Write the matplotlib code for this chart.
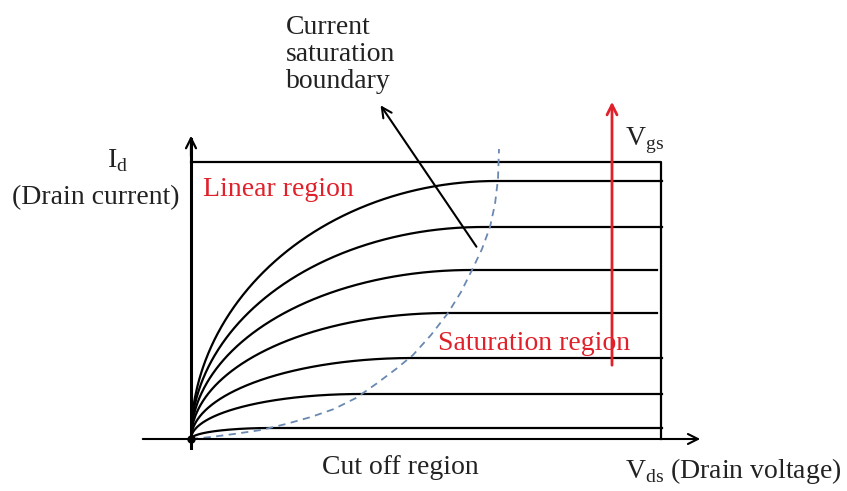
import numpy as np
import matplotlib.pyplot as plt

plt.rcParams['font.family'] = ['Liberation Serif', 'DejaVu Serif']
plt.rcParams['mathtext.fontset'] = 'custom'
plt.rcParams['mathtext.rm'] = 'Liberation Serif'

# output characteristic curves (units: drawing px from origin)
sat_level = [258, 212, 169, 126, 81, 45, 11]      # saturation current of each Vgs curve
knee_vds = [305, 292, 280, 257, 222, 170, 80]     # Vds where each curve saturates
end_vds = [471, 471, 466, 466, 471, 471, 471]     # right end of each curve

# current saturation boundary (dashed)
bound_vds = [0, 20, 43, 70, 95, 120, 143, 165, 185, 205, 222, 240, 257, 270,
             281, 291, 299, 304, 307, 308]
bound_id = [0, 2, 5, 9, 15, 22, 30, 41, 55, 70, 84, 104, 126, 147,
            169, 190, 212, 235, 260, 290]

red = '#e0202a'
ink = '#222222'

fig = plt.figure(figsize=(8.47, 4.91), dpi=100)
ax = fig.add_axes([0, 0, 1, 1])
ax.set_xlim(-191, 656)
ax.set_ylim(-52, 439)
ax.axis('off')

# axes arrows
ax.annotate('', xy=(512, 0), xytext=(-51, 0),
            arrowprops=dict(arrowstyle='->', color='black', lw=1.5, mutation_scale=18))
ax.plot([0, 0], [-9, 300], color='black', lw=2.2)
ax.annotate('', xy=(0, 306), xytext=(0, 280),
            arrowprops=dict(arrowstyle='->', color='black', lw=1.6, mutation_scale=18))

# box
ax.plot([0, 470, 470], [277, 277, 0], color='black', lw=1.6)

# curves: quarter-ellipse rise up to the knee, then flat
for lvl, vk, ve in zip(sat_level, knee_vds, end_vds):
    v = np.linspace(0, vk, 300)
    i = lvl * np.sqrt(1 - (1 - v / vk) ** 2)
    ax.plot(np.append(v, ve), np.append(i, lvl), color='black', lw=1.6)

ax.plot(bound_vds, bound_id, color='#6a88b0', lw=1.3, ls=(0, (4, 3)))
ax.plot(0, 0, 'o', color='black', ms=5)

# boundary pointer
ax.annotate('', xy=(188, 336), xytext=(287, 190),
            arrowprops=dict(arrowstyle='->', color='black', lw=1.5, mutation_scale=18))

# Vgs arrow
ax.annotate('', xy=(421, 340), xytext=(421, 71),
            arrowprops=dict(arrowstyle='->', color=red, lw=2, mutation_scale=18))

fs = 20
ax.text(95, 424, 'Current\nsaturation\nboundary', fontsize=fs, va='top', ha='left',
        multialignment='left', linespacing=1.1, color=ink)
ax.text(12, 250, 'Linear region', fontsize=fs, color=red, va='center')
ax.text(247, 96, 'Saturation region', fontsize=fs, color=red, va='center')
ax.text(-84, 278, r'I$_\mathregular{d}$', fontsize=fs, va='center', color=ink)
ax.text(-179, 241, '(Drain current)', fontsize=fs, va='center', color=ink)
ax.text(434, 298, r'V$_\mathregular{gs}$', fontsize=fs, va='center', color=ink)
ax.text(131, -29, 'Cut off region', fontsize=fs, va='center', color=ink)
ax.text(434, -32, r'V$_\mathregular{ds}$ (Drain voltage)', fontsize=fs, va='center',
        color=ink)

fig.savefig('out.png', dpi=100)
